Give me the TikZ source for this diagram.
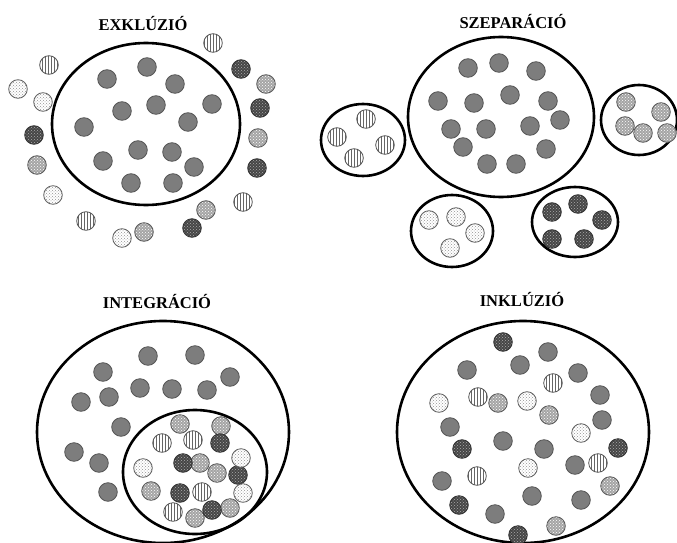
\documentclass[tikz,border=0pt]{standalone}
\usepackage{fontspec}
\setmainfont{Liberation Serif}
\usetikzlibrary{patterns}
\definecolor{gfill}{RGB}{125,125,125}
\definecolor{gline}{RGB}{85,85,85}
\definecolor{dkfill}{RGB}{70,70,70}
\definecolor{mdfill}{RGB}{165,165,165}
\tikzset{
  big/.style={draw=black,line width=2.6pt},
  title/.style={font=\bfseries\fontsize{16.5}{18}\selectfont},
  gr/.style={fill=gfill,draw=gline,line width=0.8pt},
  vs/.style={preaction={fill=white},pattern=vertical lines,pattern color=gray!80!black,draw=gline,line width=0.8pt},
  lt/.style={preaction={fill=white},pattern=crosshatch dots,pattern color=gray!85,draw=gray!75!black,line width=0.8pt},
  md/.style={preaction={fill=mdfill},pattern=crosshatch dots,pattern color=white,draw=gray!70!black,line width=0.8pt},
  dk/.style={preaction={fill=dkfill},pattern=crosshatch dots,pattern color=gray!65,draw=black!80,line width=0.8pt},
}
\newcommand\balls[2]{\foreach \p in {#2} {\path[#1] \p circle[radius=9.3pt];}}
\begin{document}
\begin{tikzpicture}[x=1pt,y=-1pt]
\useasboundingbox (0,0) rectangle (677,543);
% ---------- EXKLUZIO ----------
\node[title] (t1) at (143,24) {EXKLÚZIÓ};
\draw[big] (146,124) ellipse[x radius=94,y radius=81];
\balls{gr}{(107,79),(147,67),(175,84),(122,111),(156,105),(212,104),(188,122),(84,127),(138,150),(172,152),(103,161),(194,167),(131,183),(173,183)}
\balls{vs}{(213,43),(49,65),(243,202),(86,221)}
\balls{lt}{(18,89),(43,102),(53,195),(122,238)}
\balls{md}{(266,84),(258,138),(37,165),(206,210),(144,232)}
\balls{dk}{(241,69),(260,108),(34,135),(257,168),(192,228)}
% ---------- SZEPARACIO ----------
\node[title] (t2) at (513,22) {SZEPARÁCIÓ};
\draw[big] (501,117) ellipse[x radius=93,y radius=80];
\balls{gr}{(468,68),(499,63),(536,71),(438,101),(474,103),(510,95),(548,101),(560,120),(451,129),(486,129),(530,126),(463,147),(546,149),(487,164),(516,164)}
\draw[big] (363,140) ellipse[x radius=42,y radius=36];
\balls{vs}{(366,119),(337,137),(385,145),(354,158)}
\draw[big] (639,120) ellipse[x radius=38,y radius=35];
\balls{md}{(626,102),(661,112),(625,126),(643,133),(667,133)}
\draw[big] (452,231) ellipse[x radius=41,y radius=36];
\balls{lt}{(429,220),(456,217),(475,233),(450,248)}
\draw[big] (575,222) ellipse[x radius=43,y radius=35];
\balls{dk}{(552,212),(578,204),(602,220),(552,239),(584,239)}
% ---------- INTEGRACIO ----------
\node[title] (t3) at (157,301) {INTEGRÁCIÓ};
\draw[big] (163,432) ellipse[x radius=126,y radius=111];
\balls{gr}{(148,356),(195,355),(103,372),(230,377),(140,388),(172,389),(207,390),(109,397),(81,402),(121,427),(74,452),(99,463),(108,492)}
\draw[big] (195,472) ellipse[x radius=72,y radius=62];
\balls{md}{(180,424),(221,426),(200,463),(217,473),(151,491),(195,518),(230,508)}
\balls{vs}{(162,443),(193,440),(202,492),(173,512)}
\balls{dk}{(220,443),(183,463),(238,475),(180,493),(212,510)}
\balls{lt}{(241,458),(143,468),(243,493)}
% ---------- INKLUZIO ----------
\node[title] (t4) at (522,299) {INKLÚZIÓ};
\draw[big] (523,432) ellipse[x radius=126,y radius=111];
\balls{gr}{(548,352),(520,365),(467,370),(578,373),(600,395),(602,420),(450,427),(503,441),(544,449),(575,465),(442,481),(532,496),(581,500),(495,514)}
\balls{vs}{(553,383),(478,397),(598,463),(477,476)}
\balls{lt}{(439,403),(527,401),(581,433),(528,468)}
\balls{md}{(498,403),(549,415),(610,486),(556,526)}
\balls{dk}{(503,342),(462,449),(618,448),(459,505),(518,535)}
\end{tikzpicture}
\end{document}
